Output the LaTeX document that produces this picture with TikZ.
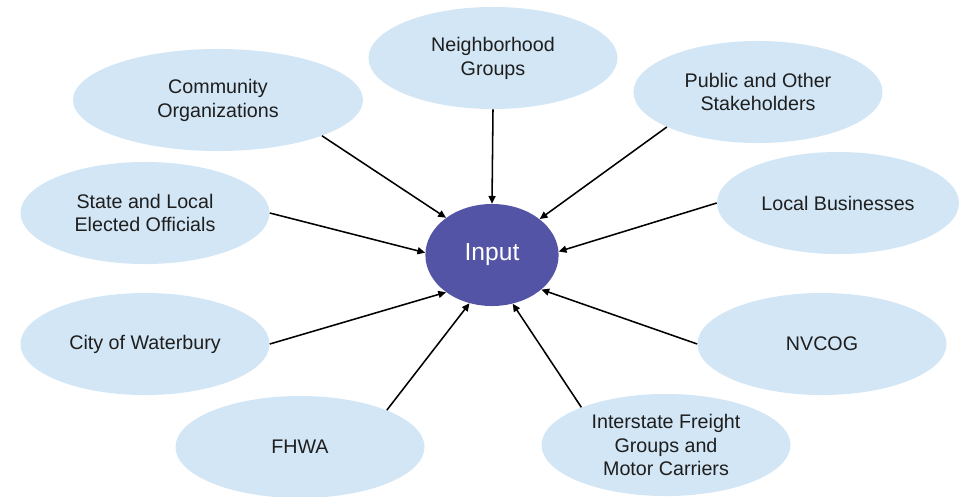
\documentclass[tikz,border=0pt]{standalone}
\usepackage{fontspec}
\setmainfont{Liberation Sans}
\usepackage{tikz}
\usetikzlibrary{shapes.geometric,arrows.meta}
\definecolor{paleblue}{RGB}{210,230,245}
\definecolor{hubpurple}{RGB}{84,84,166}
\definecolor{inkgray}{RGB}{30,30,30}
\tikzset{group/.style={
    ellipse, fill=paleblue, inner sep=0pt, align=center,
    minimum width=#1*0.025cm, minimum height=2.55cm,
    text=inkgray, font=\fontsize{14}{17}\selectfont
  },
  group/.default={249},
  hub/.style={
    ellipse, fill=hubpurple, inner sep=0pt,
    minimum width=3.33cm, minimum height=2.55cm,
    text=white, font=\fontsize{17.5}{20}\selectfont
  },
  feed/.style={-{Triangle[length=5.5pt,width=5pt]}, line width=1.1pt, black}
}

\begin{document}
\begin{tikzpicture}[x=0.025cm,y=-0.025cm]
      \useasboundingbox (0,0) rectangle (960,496);
      \node[hub] (input) at (492,255) {Input};
      \node[group] (neigh) at (493,58) {Neighborhood\\Groups};
      \node[group=290] (comm) at (218,100) {Community\\Organizations};
      \node[group] (public) at (758,92) {Public and Other\\Stakeholders};
      \node[group=242] (local) at (838,203) {Local Businesses};
      \node[group] (state) at (145,213) {State and Local\\Elected Officials};
      \node[group] (city) at (145,344) {City of Waterbury};
      \node[group] (nvcog) at (822,344) {NVCOG};
      \node[group] (fhwa) at (300,447) {FHWA};
      \node[group] (freight) at (666,445) {Interstate Freight\\Groups and\\Motor Carriers};
      \foreach \src/\from/\to in {neigh/270/90, comm/-19/141, public/201/37, local/180/3,
          state/0/178, city/0/219, fhwa/23/245, freight/156/293, nvcog/180/325} {
        \draw[feed] (\src.\from) -- (input.\to);
      }
    \end{tikzpicture}
\end{document}
